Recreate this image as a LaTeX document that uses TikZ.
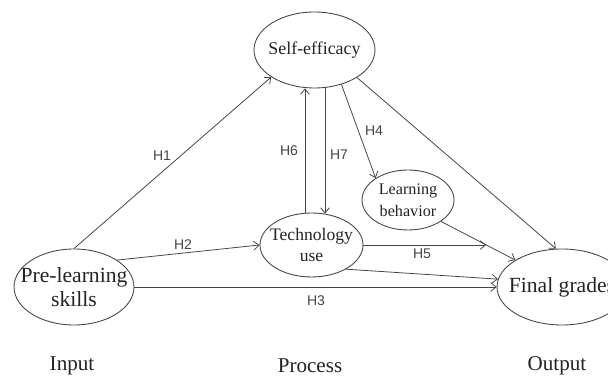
\documentclass[tikz,border=0pt]{standalone}
\usepackage{fontspec}
\setmainfont{Liberation Serif}
\newfontfamily\hfont{Liberation Sans}
\definecolor{cinzaLinha}{RGB}{70,70,70}
\definecolor{cinzaTexto}{RGB}{35,35,35}
\usetikzlibrary{shapes.geometric,arrows.meta,positioning,calc}
\tikzset{
  elipse/.style={ellipse, draw=cinzaLinha, line width=0.5pt, inner sep=0pt},
  texto/.style={align=center, inner sep=0pt, text=cinzaTexto},
  hip/.style={font=\hfont\fontsize{8}{9}\selectfont, text=cinzaLinha, inner sep=0pt},
  etapa/.style={font=\fontsize{12}{14}\selectfont, text=cinzaTexto, inner sep=0pt},
  seta/.style={-{Straight Barb[length=3pt,width=5pt]}, line width=0.45pt, cinzaLinha},
}

\begin{document}
\begin{tikzpicture}[x=0.02cm, y=-0.02cm]
  \useasboundingbox (0,0) rectangle (608,377);
  % variaveis
  \node[elipse, minimum width=2.42cm, minimum height=1.52cm,
        label={[texto, font=\fontsize{10.2}{12}\selectfont]center:Self-efficacy}] (self) at (314.5,50) {};
  \node[elipse, minimum width=2.4cm, minimum height=1.52cm,
        label={[texto, font=\fontsize{12.3}{13.6}\selectfont]center:Pre-learning\\skills}] (pre) at (74,287) {};
  \node[elipse, minimum width=2.06cm, minimum height=1.28cm,
        label={[texto, font=\fontsize{10}{12.5}\selectfont]center:Technology\\use}] (tec) at (311.5,245) {};
  \node[elipse, minimum width=1.84cm, minimum height=1.2cm,
        label={[texto, font=\fontsize{9.2}{12.5}\selectfont]center:Learning\\behavior}] (comp) at (408,200) {};
  \node[elipse, minimum width=2.6cm, minimum height=1.52cm,
        label={[texto, font=\fontsize{12.3}{13.6}\selectfont]center:Final grades}] (nota) at (562,287) {};
  % etapas
  \node[etapa] (input) at (72,366) {Input};
  \node[etapa] (process) at (310,366) {Process};
  \node[etapa] (output) at (557,366) {Output};
  % hipoteses
  \node[hip] (h1) at (162,156) {H1};
  \node[hip] (h2) at (183,245) {H2};
  \node[hip] (h3) at (316,301) {H3};
  \node[hip] (h4) at (374,131) {H4};
  \node[hip] (h5) at (422,254) {H5};
  \node[hip] (h6) at (289,151) {H6};
  \node[hip] (h7) at (339,155) {H7};
  \coordinate (h5fim) at (486,245);
  \draw[seta] (pre.north) -- (self.212);
  \draw[seta] (pre.32.5) -- (tec.west);
  \draw[seta] (pre.east) -- (nota.west);
  \draw[seta] ($(tec.north)+(-6.5,0)$) -- ($(self.south)+(-9.5,0)$);
  \draw[seta] ($(self.south)+(10.5,0)$) -- ($(tec.north)+(13.5,1)$);
  \draw[seta] (self.308) -- (comp.146);
  \draw[seta] (self.327.6) -- (nota.99);
  \draw[seta] (comp.327.5) -- (nota.150.6);
  \draw[seta] (tec.east) -- (h5fim);
  \draw[seta] (tec.325) -- (nota.173);
\end{tikzpicture}
\end{document}
